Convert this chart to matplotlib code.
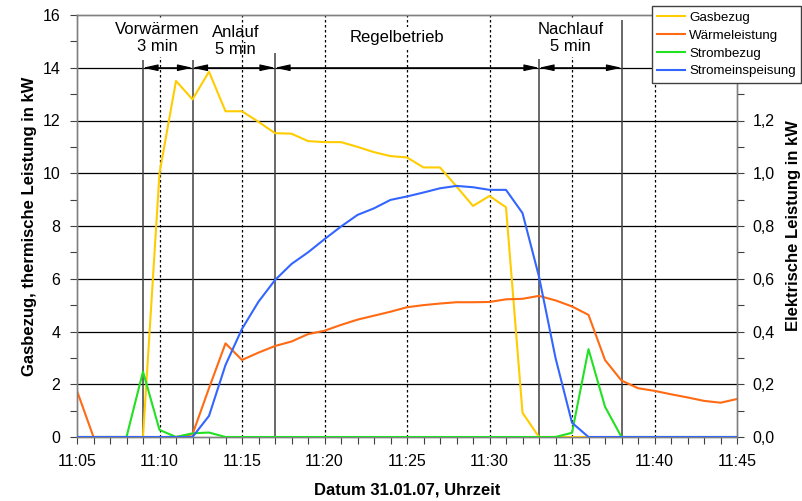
import matplotlib
matplotlib.use("Agg")
import matplotlib.pyplot as plt
from matplotlib.ticker import MultipleLocator, FixedLocator

plt.rcParams['font.family'] = ['Liberation Sans', 'DejaVu Sans']

# ---------------- data ----------------
times = ["11:05", "11:06", "11:07", "11:08", "11:09", "11:10", "11:11", "11:12",
         "11:13", "11:14", "11:15", "11:16", "11:17", "11:18", "11:19", "11:20",
         "11:21", "11:22", "11:23", "11:24", "11:25", "11:26", "11:27", "11:28",
         "11:29", "11:30", "11:31", "11:32", "11:33", "11:34", "11:35", "11:36",
         "11:37", "11:38", "11:39", "11:40", "11:41", "11:42", "11:43", "11:44",
         "11:45"]

gasbezug = [0, 0, 0, 0, 0, 10.0, 13.5, 12.8,
            13.85, 12.35, 12.35, 11.95, 11.52, 11.5, 11.22, 11.18,
            11.18, 11.0, 10.8, 10.65, 10.6, 10.22, 10.22, 9.5,
            8.76, 9.14, 8.71, 0.92, 0, 0, 0, 0,
            0, 0, 0, 0, 0, 0, 0, 0,
            0]

waermeleistung = [1.75, 0, 0, 0, 0, 0, 0, 0.1,
                  1.85, 3.55, 2.92, 3.2, 3.45, 3.62, 3.9, 4.03,
                  4.25, 4.45, 4.6, 4.75, 4.92, 5.0, 5.06, 5.11,
                  5.11, 5.12, 5.22, 5.24, 5.35, 5.18, 4.95, 4.63,
                  2.92, 2.14, 1.85, 1.75, 1.62, 1.5, 1.37, 1.3,
                  1.44]

strombezug = [0, 0, 0, 0, 0.248, 0.027, 0.0, 0.014,
              0.017, 0, 0, 0, 0, 0, 0, 0,
              0, 0, 0, 0, 0, 0, 0, 0,
              0, 0, 0, 0, 0, 0, 0.016, 0.333,
              0.115, 0, 0, 0, 0, 0, 0, 0,
              0]

stromeinspeisung = [0, 0, 0, 0, 0, 0, 0, 0,
                    0.08, 0.273, 0.41, 0.513, 0.595, 0.656, 0.70, 0.75,
                    0.798, 0.842, 0.867, 0.899, 0.912, 0.927, 0.943, 0.952,
                    0.947, 0.937, 0.937, 0.849, 0.608, 0.30, 0.054, 0,
                    0, 0, 0, 0, 0, 0, 0, 0,
                    0]

series_names = ["Gasbezug", "Wärmeleistung", "Strombezug", "Stromeinspeisung"]

x_tick_labels = ["11:05", "11:10", "11:15", "11:20", "11:25", "11:30",
                 "11:35", "11:40", "11:45"]
left_tick_labels = ["0", "2", "4", "6", "8", "10", "12", "14", "16"]
right_tick_values = [0.0, 0.2, 0.4, 0.6, 0.8, 1.0, 1.2, 1.4, 1.6]
# the two top labels are hidden behind the legend in the original
right_tick_labels = ["0,0", "0,2", "0,4", "0,6", "0,8", "1,0", "1,2", "", ""]

phase_bounds = ["11:09", "11:12", "11:17", "11:33", "11:38"]
phase_names = ["Vorwärmen\n3 min", "Anlauf\n5 min", "Regelbetrieb", "Nachlauf\n5 min"]

x_label = "Datum 31.01.07, Uhrzeit"
y_label_left = "Gasbezug, thermische Leistung in kW"
y_label_right = "Elektrische Leistung in kW"


def to_min(s):
    h, m = s.split(":")
    return int(h) * 60 + int(m)


x = [to_min(t) for t in times]

# ---------------- styling ----------------
colors = ["#FFCC00", "#FF6A13", "#22E022", "#3366FF"]
spine_col = "#808080"
W, H = 803, 501
fig = plt.figure(figsize=(W / 100, H / 100), dpi=100)
ax = fig.add_axes([77 / W, 1 - 437 / H, 660 / W, 422 / H])
ax2 = ax.twinx()

# lines
l1, = ax.plot(x, gasbezug, color=colors[0], lw=1.5, zorder=4)
l2, = ax.plot(x, waermeleistung, color=colors[1], lw=1.5, zorder=4)
l3, = ax2.plot(x, strombezug, color=colors[2], lw=1.5, zorder=4)
l4, = ax2.plot(x, stromeinspeisung, color=colors[3], lw=1.5, zorder=5)

xmin, xmax = to_min(x_tick_labels[0]), to_min(x_tick_labels[-1])
ax.set_xlim(xmin, xmax)
ax.set_ylim(0, 16)
ax2.set_ylim(0, 1.6)

# ticks
ax.xaxis.set_major_locator(FixedLocator([to_min(t) for t in x_tick_labels]))
ax.set_xticklabels(x_tick_labels)
ax.xaxis.set_minor_locator(MultipleLocator(1))
ax.yaxis.set_major_locator(FixedLocator([float(v) for v in left_tick_labels]))
ax.set_yticklabels(left_tick_labels)
ax.yaxis.set_minor_locator(MultipleLocator(1))
ax2.yaxis.set_major_locator(FixedLocator(right_tick_values))
ax2.set_yticklabels(right_tick_labels)
ax2.yaxis.set_minor_locator(MultipleLocator(0.1))

for a in (ax, ax2):
    a.tick_params(which="both", direction="out", length=5, width=0.8,
                  color="#404040", labelsize=11.5, labelcolor="black")
    for s in a.spines.values():
        s.set_color(spine_col)
        s.set_linewidth(1.0)
ax.tick_params(axis="y", pad=7)
ax.tick_params(axis="x", pad=7)
ax2.tick_params(axis="y", pad=6)

# grid: solid horizontal at major left ticks, dotted vertical every 5 min
for yv in range(2, 16, 2):
    ax.axhline(yv, color="black", lw=0.9, zorder=1)
for t in x_tick_labels[1:-1]:
    ax.axvline(to_min(t), color="black", lw=0.9, ls=(0, (2, 2)), zorder=1)

# phase boundaries
bx = [to_min(t) for t in phase_bounds]
line_tops = [14.3, 14.3, 14.55, 14.35, 15.8]
for xb, top in zip(bx, line_tops):
    ax.vlines(xb, 0, top, colors="#404040", lw=1.1, zorder=2)

# arrows between phase boundaries
for a0, a1 in zip(bx[:-1], bx[1:]):
    ax.annotate("", xy=(a1, 14), xytext=(a0, 14),
                arrowprops=dict(arrowstyle="<|-|>,head_length=0.9,head_width=0.2",
                                mutation_scale=10, color="black", lw=0.8,
                                shrinkA=0, shrinkB=0), zorder=3)

# phase labels
label_pos = [(to_min("11:09") + 0.85, 15.13), (to_min("11:14") + 0.6, 15.02),
             (to_min("11:24") + 0.4, 15.14), (to_min("11:34") + 0.9, 15.13)]
bbox_on = [True, False, True, True]
for name, (px, py), bb in zip(phase_names, label_pos, bbox_on):
    kw = {}
    if bb:
        kw["bbox"] = dict(fc="white", ec="none", pad=2)
    ax.text(px, py, name, ha="center", va="center", fontsize=12,
            linespacing=1.2, zorder=3, **kw)

# axis labels
ax.set_xlabel(x_label, fontsize=12, fontweight="bold", labelpad=10)
ax.set_ylabel(y_label_left, fontsize=12, fontweight="bold", labelpad=4)
ax2.set_ylabel(y_label_right, fontsize=12, fontweight="bold", labelpad=8)

# legend
leg = fig.legend([l1, l2, l3, l4], series_names, loc="upper right",
                 bbox_to_anchor=(801 / W, 1 - 6 / H), fontsize=9.6,
                 frameon=True, fancybox=False, edgecolor="#404040",
                 framealpha=1, handlelength=2.1, handletextpad=0.3,
                 borderpad=0.4, labelspacing=0.42, borderaxespad=0)
leg.get_frame().set_linewidth(1.0)

fig.savefig("out.png", dpi=100)
